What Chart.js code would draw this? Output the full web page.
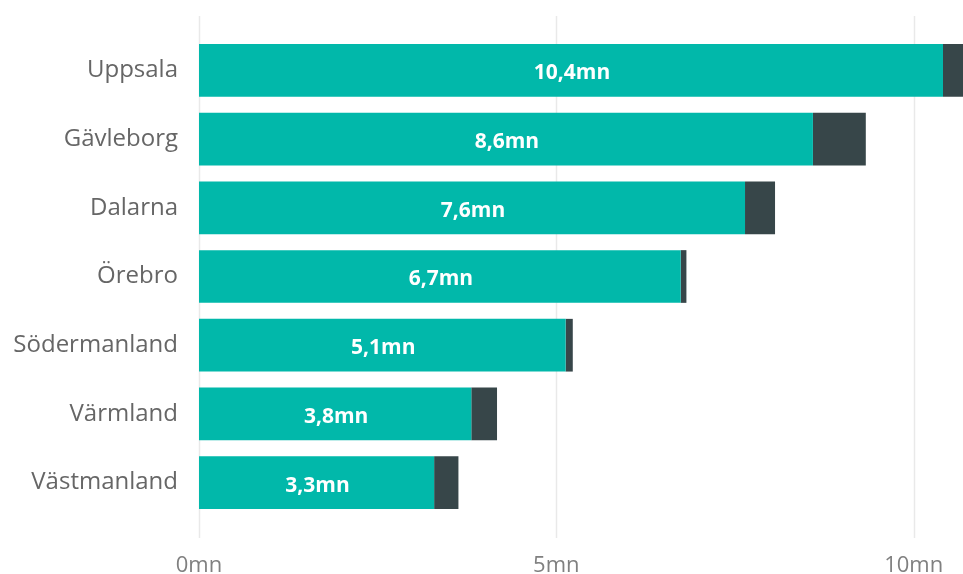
<!DOCTYPE html>
<html>
<head>
<meta charset="utf-8">
<script src="https://cdn.jsdelivr.net/npm/chart.js@4"></script>
<style>
  body { margin: 0; background: #fff; }
  #wrap { width: 963px; height: 574px; }
</style>
</head>
<body>
<div id="wrap"><canvas id="myChart"></canvas></div>
<script>
var regions = ["Uppsala", "Gävleborg", "Dalarna", "Örebro", "Södermanland", "Värmland", "Västmanland"];
var mainValues = [10.41, 8.59, 7.64, 6.74, 5.13, 3.81, 3.29];
var restValues = [0.40, 0.74, 0.42, 0.08, 0.10, 0.36, 0.34];
var xTicks = [0, 5, 10];

var fontFamily = "'Open Sans', 'Noto Sans', sans-serif";

function fmt(v) {
  return v.toFixed(1).replace(".", ",") + "mn";
}

// gridlines that run a bit above and below the bars, like the original
var gridPlugin = {
  id: "gridLines",
  beforeDatasetsDraw: function(chart) {
    var ctx = chart.ctx;
    var xs = chart.scales.x;
    ctx.save();
    ctx.strokeStyle = "#e9e9e9";
    ctx.lineWidth = 1.5;
    xTicks.forEach(function(t) {
      var px = Math.round(xs.getPixelForValue(t)) + 0.5;
      ctx.beginPath();
      ctx.moveTo(px, 16);
      ctx.lineTo(px, 538);
      ctx.stroke();
    });
    ctx.restore();
  }
};

// white value labels in the middle of the teal bars
var labelPlugin = {
  id: "barLabels",
  afterDatasetsDraw: function(chart) {
    var ctx = chart.ctx;
    var meta = chart.getDatasetMeta(0);
    ctx.save();
    ctx.fillStyle = "#ffffff";
    ctx.font = "700 21px " + fontFamily;
    ctx.textAlign = "center";
    ctx.textBaseline = "middle";
    meta.data.forEach(function(bar, i) {
      ctx.fillText(fmt(mainValues[i]), (bar.x + bar.base) / 2 + 1, bar.y + 3);
    });
    ctx.restore();
  }
};

new Chart("myChart", {
  type: "bar",
  data: {
    labels: regions,
    datasets: [{
      backgroundColor: "#01B8AA",
      data: mainValues
    }, {
      backgroundColor: "#374649",
      data: restValues
    }]
  },
  options: {
    indexAxis: "y",
    responsive: true,
    maintainAspectRatio: false,
    animation: false,
    layout: { padding: { top: 36, right: 0, left: 0, bottom: 0 } },
    plugins: {
      legend: { display: false },
      tooltip: { enabled: false }
    },
    datasets: {
      bar: { categoryPercentage: 1, barPercentage: 0.767 }
    },
    scales: {
      x: {
        stacked: true,
        min: 0,
        max: 10.69,
        grid: { display: false, drawTicks: false },
        border: { display: false },
        afterFit: function(scale) {
          scale.height = 57;
          scale.paddingLeft = 0;
          scale.paddingRight = 0;
        },
        ticks: {
          stepSize: 5,
          includeBounds: false,
          color: "#808080",
          padding: 36,
          font: { family: fontFamily, size: 22 },
          callback: function(v) { return v + "mn"; }
        }
      },
      y: {
        stacked: true,
        grid: { display: false, drawTicks: false },
        border: { display: false },
        afterFit: function(scale) { scale.width = 199; },
        ticks: {
          color: "#666666",
          padding: 21,
          font: { family: fontFamily, size: 24 }
        }
      }
    }
  },
  plugins: [gridPlugin, labelPlugin]
});
</script>
</body>
</html>
